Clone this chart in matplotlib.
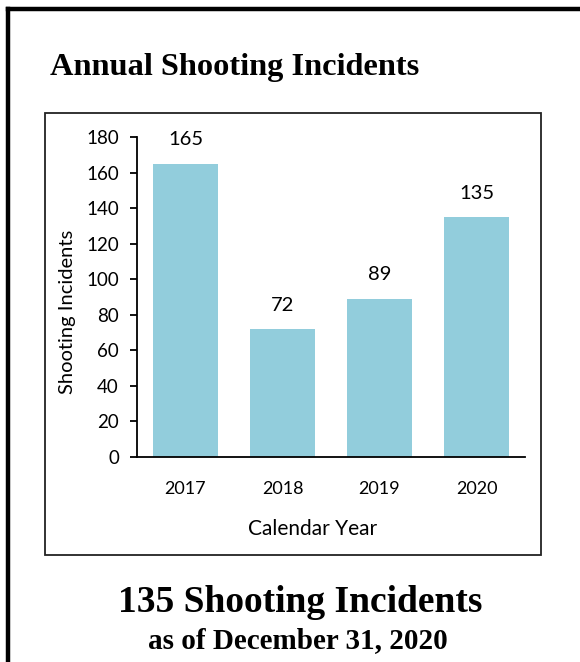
import matplotlib
matplotlib.use("Agg")
import matplotlib.pyplot as plt
from matplotlib.lines import Line2D
from matplotlib.patches import Rectangle

years = ["2017", "2018", "2019", "2020"]
incidents = [165, 72, 89, 135]
y_ticks = [0, 20, 40, 60, 80, 100, 120, 140, 160, 180]

W, H = 580, 662
fig = plt.figure(figsize=(W / 100, H / 100), dpi=100)
fig.patch.set_facecolor("white")

def fx(px):
    return px / W

def fy(py):
    return 1 - py / H

sans = ["Lato", "DejaVu Sans"]
serif = ["Liberation Serif", "DejaVu Serif"]

# outer frame (top and left edges)
fig.add_artist(Line2D([fx(8), fx(8)], [fy(9), 0], transform=fig.transFigure,
                      color="black", lw=3.2, solid_capstyle="projecting"))
fig.add_artist(Line2D([fx(8), 1], [fy(9), fy(9)], transform=fig.transFigure,
                      color="black", lw=3.2, solid_capstyle="projecting"))

# chart box
fig.add_artist(Rectangle((fx(45), fy(555)), fx(541) - fx(45), fy(113) - fy(555),
                         transform=fig.transFigure, fill=False,
                         edgecolor="#222222", lw=1.3))

fig.text(fx(50), fy(67), "Annual Shooting Incidents", family=serif,
         fontweight="bold", fontsize=23.3, ha="left", va="center")

ax = fig.add_axes([fx(137), fy(457), fx(525) - fx(137), fy(137) - fy(457)])
x = range(len(years))
bars = ax.bar(x, incidents, width=0.67, color="#92CDDC")
ax.set_xlim(-0.5, 3.5)
ax.set_ylim(0, 180)
ax.set_yticks(y_ticks)
ax.set_xticks(list(x))
ax.set_xticklabels(years)
for s in ["top", "right"]:
    ax.spines[s].set_visible(False)
ax.spines["left"].set_linewidth(1.3)
ax.spines["bottom"].set_linewidth(1.3)
ax.tick_params(axis="y", direction="out", length=5, width=1.3, pad=8,
               labelsize=13.5)
ax.tick_params(axis="x", length=0, pad=17, labelsize=13)
for lbl in ax.get_xticklabels() + ax.get_yticklabels():
    lbl.set_family(sans)

for xi, v in zip(x, incidents):
    ax.annotate(str(v), (xi, v), xytext=(0, 11), textcoords="offset points",
                ha="center", va="bottom", fontsize=14.5, family=sans)

fig.text(fx(67), fy(312), "Shooting Incidents", rotation=90, family=sans,
         fontsize=14.5, ha="center", va="center")
fig.text(fx(313), fy(529), "Calendar Year", family=sans, fontsize=15,
         ha="center", va="center")

fig.text(fx(300), fy(603), "135 Shooting Incidents", family=serif,
         fontweight="bold", fontsize=27, ha="center", va="center")
fig.text(fx(298), fy(641), "as of December 31, 2020", family=serif,
         fontweight="bold", fontsize=21, ha="center", va="center")

fig.savefig("out.png", dpi=100, facecolor="white")
